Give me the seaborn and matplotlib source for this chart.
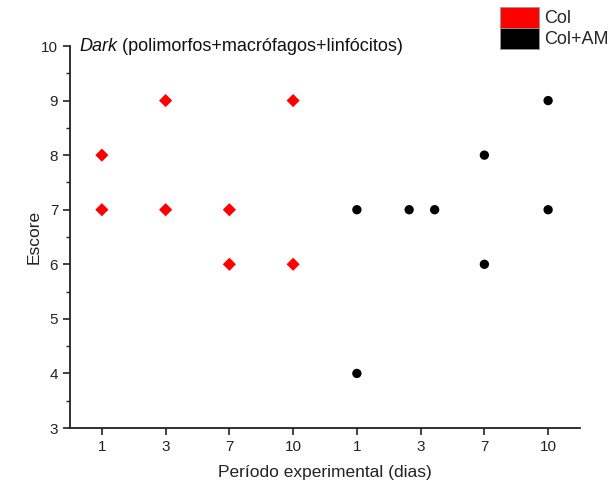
import matplotlib
matplotlib.use("Agg")
import matplotlib.pyplot as plt
from matplotlib.patches import Patch
from matplotlib.ticker import MultipleLocator
import seaborn as sns
import pandas as pd

# Data
col_x = [1, 1, 2, 2, 3, 3, 4, 4]
col_y = [8, 7, 9, 7, 7, 6, 9, 6]
am_x = [5, 5, 5.82, 6.22, 7, 7, 8, 8]
am_y = [7, 4, 7, 7, 8, 6, 9, 7]
tick_pos = [1, 2, 3, 4, 5, 6, 7, 8]
tick_labels = ["1", "3", "7", "10", "1", "3", "7", "10"]
series_names = ["Col", "Col+AM"]

sns.set_theme(style="ticks")
plt.rcParams['font.family'] = ['Liberation Sans', 'DejaVu Sans']

df = pd.DataFrame({
    "x": col_x + am_x,
    "y": col_y + am_y,
    "grupo": [series_names[0]] * len(col_x) + [series_names[1]] * len(am_x),
})

fig = plt.figure(figsize=(6.12, 4.9), dpi=100)
ax = fig.add_axes([70 / 612, 62 / 490, 510 / 612, 382 / 490])

sns.scatterplot(data=df, x="x", y="y", hue="grupo", style="grupo",
                palette={"Col": "#ff0000", "Col+AM": "#000000"},
                markers={"Col": "D", "Col+AM": "o"},
                s=45, linewidth=0, ax=ax, legend=False)

ax.set_xlim(0.5, 8.5)
ax.set_ylim(3, 10)
ax.set_xticks(tick_pos)
ax.set_xticklabels(tick_labels)
ax.set_yticks(range(3, 11))
ax.yaxis.set_minor_locator(MultipleLocator(0.5))
for s in ["top", "right"]:
    ax.spines[s].set_visible(False)
for s in ["left", "bottom"]:
    ax.spines[s].set_linewidth(1.3)
    ax.spines[s].set_color("#222222")
ax.tick_params(axis="both", which="major", length=5, width=1.2, labelsize=11,
               colors="#222222", direction="out")
ax.tick_params(axis="y", which="minor", length=3, width=1.0, color="#222222")
ax.set_xlabel("Período experimental (dias)", fontsize=12.5, labelpad=8, color="#222222")
ax.set_ylabel("Escore", fontsize=12.5, labelpad=0, color="#222222")

t1 = ax.text(0.018, 0.998, "Dark", transform=ax.transAxes, fontsize=13,
             style="italic", va="center", ha="left", color="#111111")
ax.annotate(" (polimorfos+macrófagos+linfócitos)", xy=(1, 0.5), xycoords=t1,
            va="center", ha="left", fontsize=13, color="#111111")

handles = [Patch(facecolor="#ff0000", edgecolor="#999999", linewidth=0.6),
           Patch(facecolor="#000000", edgecolor="#999999", linewidth=0.6)]
fig.legend(handles, series_names, loc="upper left", bbox_to_anchor=(496 / 612, 0.993),
           frameon=False, fontsize=13, handlelength=2.2, handleheight=1.4,
           handletextpad=0.25, labelspacing=0.0, borderpad=0.2, borderaxespad=0.0)

fig.savefig("out.png", dpi=100)
